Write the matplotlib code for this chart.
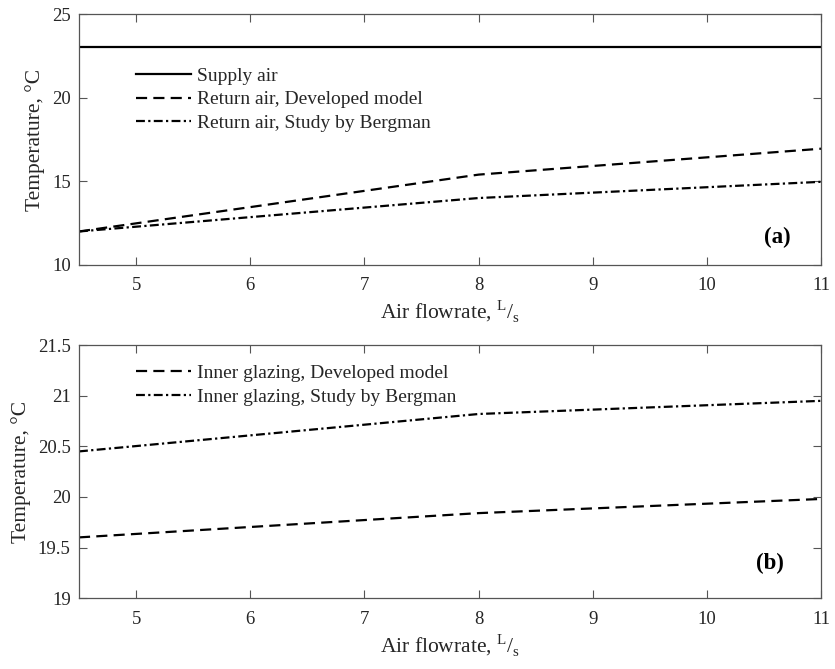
import matplotlib
matplotlib.use("Agg")
import matplotlib.pyplot as plt

plt.rcParams['font.family'] = ['Liberation Serif', 'DejaVu Serif']
plt.rcParams['mathtext.fontset'] = 'custom'
plt.rcParams['mathtext.rm'] = 'Liberation Serif'

# flowrate, L/s
flow = [4.5, 8, 11]

# (a) air temperatures
supply_air = [23.0, 23.0, 23.0]
return_dev = [12.0, 15.4, 16.95]
return_bergman = [12.0, 14.0, 14.97]

# (b) inner glazing temperatures
glazing_dev = [19.6, 19.84, 19.98]
glazing_bergman = [20.45, 20.82, 20.95]

xticks = [5, 6, 7, 8, 9, 10, 11]
yticks_a = [10, 15, 20, 25]
yticks_b = [19, 19.5, 20, 20.5, 21, 21.5]

dash = (0, (5, 2.8))
dashdot = (0, (4, 1.5, 1, 1.5))
txt_col = '#262626'
spine_col = '#555555'
fs = 13.5

fig = plt.figure(figsize=(8.35, 6.69), dpi=100)
ax1 = fig.add_axes([0.0946, 0.604, 0.889, 0.375])
ax2 = fig.add_axes([0.0946, 0.106, 0.889, 0.378])

ax1.plot(flow, supply_air, color='black', lw=1.6, ls='-', label='Supply air')
ax1.plot(flow, return_dev, color='black', lw=1.6, ls=dash, label='Return air, Developed model')
ax1.plot(flow, return_bergman, color='black', lw=1.6, ls=dashdot, label='Return air, Study by Bergman')

ax2.plot(flow, glazing_dev, color='black', lw=1.6, ls=dash, label='Inner glazing, Developed model')
ax2.plot(flow, glazing_bergman, color='black', lw=1.6, ls=dashdot, label='Inner glazing, Study by Bergman')

xlab = r'Air flowrate, $^{\mathrm{L}}/_{\mathrm{s}}$'
panels = [
    (ax1, yticks_a, (10, 25), '(a)', (0.958, 0.11), 0.82),
    (ax2, yticks_b, (19, 21.5), '(b)', (0.95, 0.138), 0.955),
]
for ax, yt, lim, tag, tag_xy, leg_top in panels:
    ax.set_xlim(4.5, 11)
    ax.set_ylim(*lim)
    ax.set_xticks(xticks)
    ax.set_yticks(yt)
    ax.set_yticklabels([('%g' % v) for v in yt])
    ax.tick_params(direction='in', top=True, right=True, length=6, width=0.8,
                   labelsize=fs, colors=spine_col, labelcolor=txt_col)
    ax.tick_params(axis='x', pad=9)
    ax.tick_params(axis='y', pad=6)
    for s in ax.spines.values():
        s.set_color(spine_col)
        s.set_linewidth(0.9)
    ax.set_xlabel(xlab, fontsize=15.5, color=txt_col, labelpad=3)
    ax.set_ylabel('Temperature, °C', fontsize=15.5, color=txt_col, labelpad=5)
    ax.text(tag_xy[0], tag_xy[1], tag, transform=ax.transAxes, ha='right', va='center',
            fontsize=16.5, fontweight='bold', color='black')
    leg = ax.legend(loc='upper left', bbox_to_anchor=(0.066, leg_top),
                    frameon=False, fontsize=14, handlelength=2.85, handletextpad=0.3,
                    labelspacing=0.32, borderaxespad=0)
    for t in leg.get_texts():
        t.set_color(txt_col)

fig.savefig('out.png', dpi=100)
